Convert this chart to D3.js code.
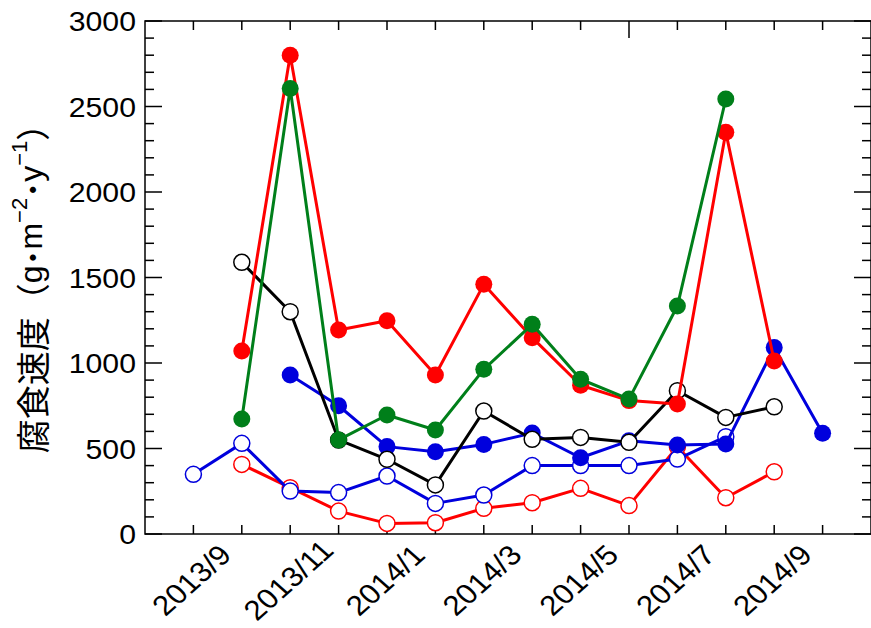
<!DOCTYPE html>
<html>
<head>
<meta charset="utf-8">
<script src="https://cdn.jsdelivr.net/npm/d3@7"></script>
<style>
  html, body { margin: 0; padding: 0; background: #fff; }
  svg { display: block; }
</style>
</head>
<body>
<svg id="chart" width="871" height="628"></svg>
<script>
// ---- data (month index 0 = 2013/9 ... 13 = 2014/10) ----
const months = ["2013/9","2013/10","2013/11","2013/12","2014/1","2014/2","2014/3",
                "2014/4","2014/5","2014/6","2014/7","2014/8","2014/9","2014/10"];
const xTickLabels = ["2013/9","2013/11","2014/1","2014/3","2014/5","2014/7","2014/9"];
const yTickLabels = [0, 500, 1000, 1500, 2000, 2500, 3000];

const redOpen     = [null, 407, 271, 134, 62, 66, 150, 183, 267, 166, 510, 212, 364, null];
const blueOpen    = [349, 530, 251, 242, 339, 179, 228, 400, 400, 400, 438, 569, null, null];
const blueFilled  = [null, null, 930, 750, 511, 481, 524, 590, 446, 545, 520, 526, 1090, 589];
const blackOpen   = [null, 1589, 1300, 550, 437, 287, 719, 554, 565, 536, 838, 682, 744, null];
const redFilled   = [null, 1070, 2800, 1193, 1247, 930, 1460, 1148, 870, 780, 760, 2350, 1012, null];
const greenFilled = [null, 672, 2605, 550, 696, 608, 963, 1226, 905, 789, 1333, 2544, null, null];

const seriesList = [
  { values: redOpen,     color: "#ff0000", filled: false },
  { values: blueOpen,    color: "#0000dd", filled: false },
  { values: blueFilled,  color: "#0000dd", filled: true  },
  { values: blackOpen,   color: "#000000", filled: false },
  { values: redFilled,   color: "#ff0000", filled: true  },
  { values: greenFilled, color: "#007f1a", filled: true  }
];

// ---- layout ----
const L = 145, R = 871, T = 21, B = 534;
const svg = d3.select("#chart");

// month position: -1 => 2013/8 (left edge), 14 => 2014/11 (right edge)
const x = d3.scaleLinear().domain([-1, 14]).range([L, R]);
const y = d3.scaleLinear().domain([0, 3000]).range([B, T]);

const sx = 1.12; // horizontal stretch of tick label glyphs
const tickFont = "'Liberation Sans', Arial, sans-serif";

// ---- frame ----
svg.append("rect")
  .attr("x", L).attr("y", T).attr("width", R - L).attr("height", B - T)
  .attr("fill", "none").attr("stroke", "#000").attr("stroke-width", 1.5);

// ---- y ticks (left & right) ----
const yMinor = d3.range(0, 3001, 100);
const yt = svg.append("g").attr("stroke", "#000").attr("stroke-width", 1.5);
yMinor.forEach(v => {
  const major = v % 500 === 0;
  const len = major ? 17 : 9;
  yt.append("line").attr("x1", L).attr("x2", L + len).attr("y1", y(v)).attr("y2", y(v));
  yt.append("line").attr("x1", R).attr("x2", R - len).attr("y1", y(v)).attr("y2", y(v));
});

svg.append("g").selectAll("text").data(yTickLabels).join("text")
  .attr("transform", d => `translate(${L - 9},${y(d) + 1}) scale(${sx},1)`)
  .attr("text-anchor", "end")
  .attr("dominant-baseline", "central")
  .attr("font-family", tickFont)
  .attr("font-size", 27)
  .attr("fill", "#000")
  .text(d => d);

// ---- x ticks (bottom & top) ----
const xt = svg.append("g").attr("stroke", "#000").attr("stroke-width", 1.5);
months.forEach((m, i) => {
  xt.append("line").attr("x1", x(i)).attr("x2", x(i)).attr("y1", B).attr("y2", B - 9);
  const topLen = (m === "2014/6") ? 17 : 9;
  xt.append("line").attr("x1", x(i)).attr("x2", x(i)).attr("y1", T).attr("y2", T + topLen);
});

svg.append("g").selectAll("text").data(xTickLabels).join("text")
  .attr("transform", d => `translate(${x(months.indexOf(d)) - 2},${580}) scale(${sx},1) rotate(-45)`)
  .attr("text-anchor", "middle")
  .attr("dominant-baseline", "central")
  .attr("font-family", tickFont)
  .attr("font-size", 28)
  .attr("fill", "#000")
  .text(d => d);

// ---- y axis title ----
const title = svg.append("text")
  .attr("transform", `translate(31,${280}) rotate(-90)`)
  .attr("text-anchor", "middle")
  .attr("dominant-baseline", "central")
  .attr("fill", "#000");
const cjk = "'Noto Sans CJK JP', sans-serif";
title.append("tspan").attr("font-family", cjk).attr("font-size", 34).text("腐食速度（");
title.append("tspan").attr("font-family", tickFont).attr("font-size", 32).text("g");
title.append("tspan").attr("font-family", cjk).attr("font-size", 32).attr("font-weight", "bold").text("･");
title.append("tspan").attr("font-family", tickFont).attr("font-size", 32).text("m");
title.append("tspan").attr("font-family", tickFont).attr("font-size", 22).attr("dy", -12).text("−2");
title.append("tspan").attr("font-family", cjk).attr("font-size", 32).attr("font-weight", "bold").attr("dy", 12).text("･");
title.append("tspan").attr("font-family", tickFont).attr("font-size", 32).text("y");
title.append("tspan").attr("font-family", tickFont).attr("font-size", 22).attr("dy", -12).text("−1");
title.append("tspan").attr("font-family", cjk).attr("font-size", 34).attr("dy", 12).text("）");

// ---- series ----
const line = d3.line()
  .defined(d => d.v !== null)
  .x(d => x(d.i))
  .y(d => y(d.v));

const plot = svg.append("g");
seriesList.forEach(s => {
  const pts = s.values.map((v, i) => ({ i, v }));
  const g = plot.append("g");
  g.append("path")
    .attr("d", line(pts))
    .attr("fill", "none")
    .attr("stroke", s.color)
    .attr("stroke-width", 3)
    .attr("stroke-linejoin", "round");
  g.selectAll("circle").data(pts.filter(d => d.v !== null)).join("circle")
    .attr("cx", d => x(d.i))
    .attr("cy", d => y(d.v))
    .attr("r", s.filled ? 8.5 : 8)
    .attr("fill", s.filled ? s.color : "#fff")
    .attr("stroke", s.color)
    .attr("stroke-width", s.filled ? 0 : 1.5);
});
</script>
</body>
</html>
